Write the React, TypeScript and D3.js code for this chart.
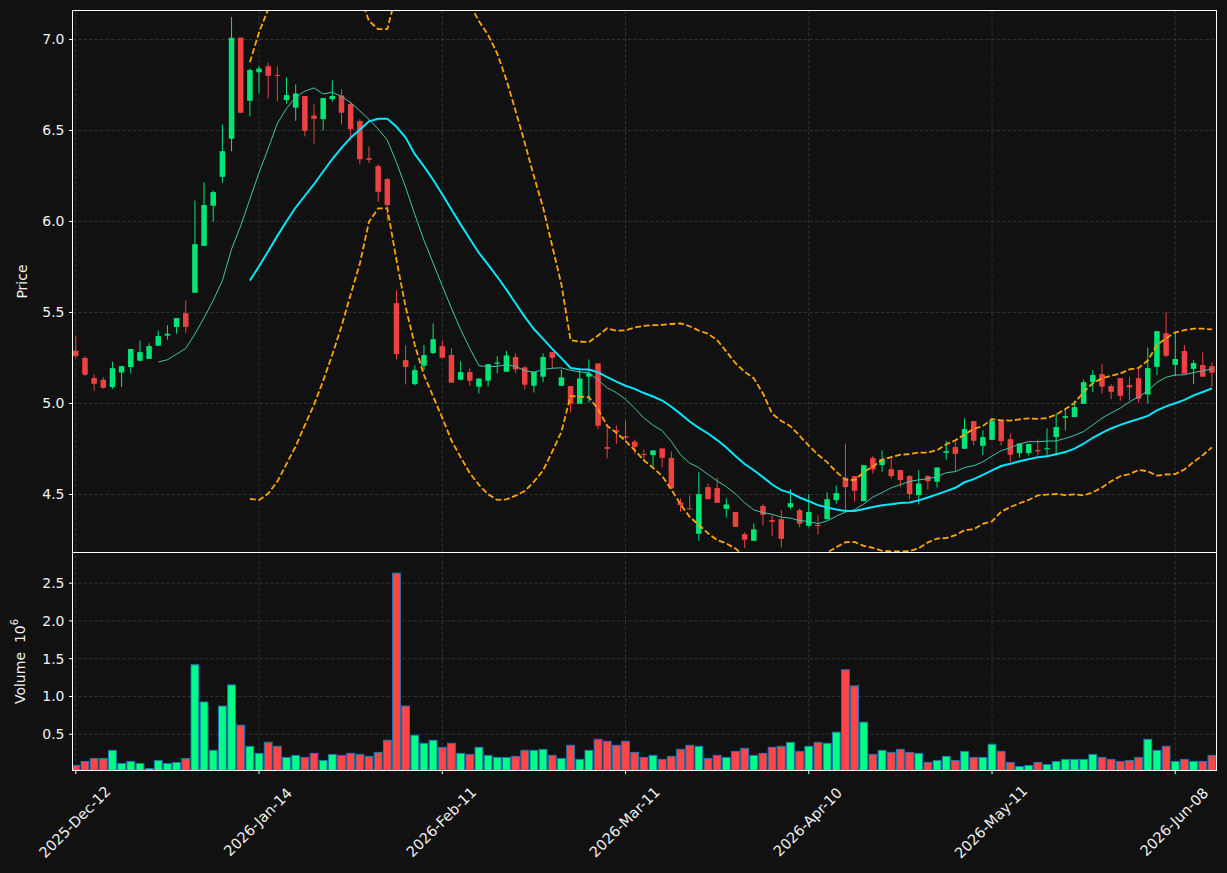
import React, { useEffect, useRef } from 'react';
import * as d3 from 'd3';

// OHLC, one value per trading day (125 bars)
const opens = [
  5.29, 5.25, 5.14, 5.13, 5.09, 5.17, 5.2, 5.235, 5.245, 5.317,
  5.373, 5.42, 5.496, 5.608, 5.866, 6.086, 6.245, 6.454, 7.01, 6.663,
  6.82, 6.853, 6.806, 6.667, 6.625, 6.689, 6.582, 6.562, 6.672, 6.692,
  6.645, 6.551, 6.348, 6.304, 6.233, 5.551, 5.238, 5.106, 5.207, 5.277,
  5.315, 5.266, 5.13, 5.172, 5.092, 5.125, 5.218, 5.174, 5.255, 5.198,
  5.097, 5.147, 5.282, 5.097, 5.095, 4.998, 5.147, 5.22, 4.76, 4.853,
  4.82, 4.79, 4.722, 4.716, 4.753, 4.7, 4.456, 4.423, 4.284, 4.54,
  4.535, 4.421, 4.403, 4.282, 4.245, 4.436, 4.359, 4.364, 4.43, 4.414,
  4.328, 4.333, 4.364, 4.469, 4.592, 4.601, 4.463, 4.7, 4.661, 4.639,
  4.634, 4.601, 4.496, 4.601, 4.57, 4.729, 4.76, 4.751, 4.903, 4.767,
  4.8, 4.903, 4.804, 4.727, 4.727, 4.744, 4.749, 4.815, 4.921, 4.925,
  4.998, 5.117, 5.161, 5.095, 5.139, 5.101, 5.139, 5.049, 5.201, 5.386,
  5.212, 5.288, 5.19, 5.211, 5.205,
];
const highs = [
  5.37, 5.26, 5.16, 5.145, 5.23, 5.205, 5.3, 5.345, 5.33, 5.4,
  5.43, 5.47, 5.566, 6.115, 6.214, 6.17, 6.533, 7.123, 7.01, 6.841,
  6.855, 6.872, 6.853, 6.791, 6.753, 6.689, 6.643, 6.678, 6.775, 6.725,
  6.658, 6.562, 6.412, 6.313, 6.238, 5.621, 5.319, 5.209, 5.32, 5.44,
  5.344, 5.302, 5.231, 5.192, 5.137, 5.216, 5.26, 5.288, 5.275, 5.205,
  5.174, 5.275, 5.282, 5.187, 5.095, 5.183, 5.242, 5.22, 4.872, 4.879,
  4.907, 4.802, 4.747, 4.742, 4.753, 4.736, 4.478, 4.495, 4.621, 4.56,
  4.593, 4.478, 4.403, 4.293, 4.341, 4.447, 4.386, 4.414, 4.527, 4.423,
  4.502, 4.385, 4.511, 4.548, 4.78, 4.601, 4.661, 4.711, 4.742, 4.698,
  4.634, 4.606, 4.634, 4.606, 4.648, 4.795, 4.789, 4.918, 4.903, 4.852,
  4.921, 4.903, 4.835, 4.78, 4.777, 4.802, 4.863, 4.943, 4.969, 5.015,
  5.132, 5.183, 5.216, 5.106, 5.139, 5.147, 5.19, 5.308, 5.397, 5.5,
  5.388, 5.321, 5.238, 5.28, 5.225,
];
const lows = [
  5.25, 5.15, 5.07, 5.08, 5.08, 5.09, 5.165, 5.23, 5.245, 5.317,
  5.35, 5.383, 5.388, 5.608, 5.866, 5.998, 6.212, 6.385, 6.597, 6.577,
  6.705, 6.676, 6.661, 6.648, 6.553, 6.467, 6.427, 6.5, 6.658, 6.533,
  6.443, 6.313, 6.322, 6.108, 6.007, 5.242, 5.104, 5.099, 5.183, 5.271,
  5.251, 5.114, 5.13, 5.097, 5.055, 5.093, 5.165, 5.174, 5.168, 5.077,
  5.06, 5.117, 5.189, 5.097, 4.951, 4.998, 5.005, 4.859, 4.698, 4.777,
  4.789, 4.722, 4.689, 4.652, 4.648, 4.533, 4.405, 4.418, 4.245, 4.474,
  4.454, 4.374, 4.322, 4.207, 4.245, 4.33, 4.271, 4.209, 4.419, 4.319,
  4.319, 4.28, 4.364, 4.449, 4.414, 4.46, 4.463, 4.615, 4.625, 4.588,
  4.542, 4.473, 4.445, 4.527, 4.538, 4.69, 4.625, 4.751, 4.769, 4.716,
  4.8, 4.769, 4.679, 4.703, 4.714, 4.714, 4.716, 4.716, 4.852, 4.925,
  4.998, 5.062, 5.055, 5.024, 5.015, 5.018, 5.004, 5.0, 5.156, 5.253,
  5.15, 5.163, 5.106, 5.147, 5.092,
];
const closes = [
  5.26, 5.158, 5.108, 5.086, 5.194, 5.205, 5.299, 5.282, 5.315, 5.37,
  5.383, 5.469, 5.421, 5.875, 6.09, 6.161, 6.386, 7.009, 6.597, 6.832,
  6.84, 6.8, 6.8, 6.694, 6.703, 6.498, 6.564, 6.678, 6.689, 6.597,
  6.507, 6.342, 6.339, 6.163, 6.09, 5.271, 5.201, 5.183, 5.266, 5.353,
  5.251, 5.114, 5.172, 5.125, 5.137, 5.216, 5.225, 5.264, 5.187, 5.103,
  5.174, 5.255, 5.251, 5.143, 4.998, 5.137, 5.165, 4.877, 4.751, 4.844,
  4.811, 4.762, 4.716, 4.742, 4.701, 4.533, 4.441, 4.418, 4.502, 4.474,
  4.454, 4.445, 4.322, 4.251, 4.308, 4.388, 4.35, 4.256, 4.452, 4.339,
  4.403, 4.326, 4.474, 4.507, 4.54, 4.52, 4.661, 4.637, 4.694, 4.601,
  4.579, 4.502, 4.56, 4.573, 4.648, 4.738, 4.723, 4.859, 4.795, 4.815,
  4.903, 4.793, 4.718, 4.78, 4.777, 4.737, 4.754, 4.87, 4.93, 4.98,
  5.117, 5.156, 5.092, 5.064, 5.042, 5.088, 5.026, 5.194, 5.397, 5.262,
  5.244, 5.163, 5.222, 5.147, 5.169,
];
// volume in millions
const volumes = [
  0.087, 0.14, 0.18, 0.18, 0.287, 0.113, 0.14, 0.113, 0.047, 0.153,
  0.113, 0.127, 0.18, 1.42, 0.927, 0.287, 0.873, 1.153, 0.62, 0.34,
  0.247, 0.393, 0.34, 0.193, 0.22, 0.193, 0.247, 0.153, 0.233, 0.22,
  0.247, 0.233, 0.207, 0.26, 0.42, 2.633, 0.873, 0.487, 0.38, 0.42,
  0.327, 0.38, 0.247, 0.233, 0.327, 0.22, 0.193, 0.193, 0.207, 0.287,
  0.287, 0.3, 0.22, 0.18, 0.353, 0.167, 0.287, 0.433, 0.407, 0.353,
  0.407, 0.26, 0.193, 0.22, 0.167, 0.207, 0.3, 0.353, 0.34, 0.18,
  0.22, 0.193, 0.273, 0.313, 0.22, 0.247, 0.327, 0.34, 0.393, 0.273,
  0.34, 0.393, 0.38, 0.527, 1.353, 1.14, 0.66, 0.233, 0.287, 0.26,
  0.3, 0.26, 0.247, 0.127, 0.153, 0.207, 0.153, 0.273, 0.193, 0.193,
  0.367, 0.273, 0.127, 0.073, 0.087, 0.127, 0.1, 0.14, 0.167, 0.167,
  0.167, 0.233, 0.193, 0.167, 0.14, 0.153, 0.193, 0.433, 0.287, 0.34,
  0.14, 0.167, 0.14, 0.14, 0.22,
];

const tickIdx = [0, 20, 40, 60, 80, 100, 120];
const tickLabels = ['2025-Dec-12', '2026-Jan-14', '2026-Feb-11', '2026-Mar-11', '2026-Apr-10', '2026-May-11', '2026-Jun-08'];
const priceTicks = [4.5, 5.0, 5.5, 6.0, 6.5, 7.0];
const volTicks = [0.5, 1.0, 1.5, 2.0, 2.5];

const W = 1227, H = 873;
const L = 72.5, R = 1216.5, PT = 10.5, PB = 552.5, VB = 770.5;
const UP = '#00e676', DOWN = '#ec4242';
const VUP = '#00ff84', VDOWN = '#ff4545';
const FONT = 'DejaVu Sans, sans-serif';

// rolling mean / population std over closes
function rolling(vals: number[], n: number) {
  const out: { i: number; m: number; s: number }[] = [];
  for (let i = n - 1; i < vals.length; i++) {
    const w = vals.slice(i - n + 1, i + 1);
    const m = d3.mean(w) as number;
    const s = Math.sqrt(d3.mean(w, (v) => (v - m) * (v - m)) as number);
    out.push({ i, m, s });
  }
  return out;
}

export default function App() {
  const ref = useRef<SVGSVGElement>(null);

  useEffect(() => {
    const svg = d3.select(ref.current);
    svg.selectAll('*').remove();

    const x = d3.scaleLinear().domain([-0.36, 124.5]).range([L, R]);
    const yP = d3.scaleLinear().domain([4.181, 7.159]).range([PB, PT]);
    const yV = d3.scaleLinear().domain([0.02, 2.906]).range([VB, PB]);
    const n = closes.length;
    const idx = d3.range(n);

    svg.append('rect').attr('width', W).attr('height', H).attr('fill', '#111111');

    const defs = svg.append('defs');
    defs.append('clipPath').attr('id', 'clipP')
      .append('rect').attr('x', L).attr('y', PT).attr('width', R - L).attr('height', PB - PT);
    defs.append('clipPath').attr('id', 'clipV')
      .append('rect').attr('x', L).attr('y', PB).attr('width', R - L).attr('height', VB - PB);

    // grid
    const grid = svg.append('g').attr('stroke', '#3a3a3a').attr('stroke-width', 0.8).attr('stroke-dasharray', '3.5,2');
    tickIdx.forEach((t) => {
      grid.append('line').attr('x1', x(t)).attr('x2', x(t)).attr('y1', PT).attr('y2', VB);
    });
    priceTicks.forEach((p) => {
      grid.append('line').attr('x1', L).attr('x2', R).attr('y1', yP(p)).attr('y2', yP(p));
    });
    volTicks.forEach((v) => {
      grid.append('line').attr('x1', L).attr('x2', R).attr('y1', yV(v)).attr('y2', yV(v));
    });

    // volume bars
    const vg = svg.append('g').attr('clip-path', 'url(#clipV)');
    vg.selectAll('rect').data(idx).enter().append('rect')
      .attr('x', (i) => x(i) - 3.9)
      .attr('width', 7.8)
      .attr('y', (i) => yV(volumes[i]))
      .attr('height', (i) => VB + 2 - yV(volumes[i]))
      .attr('fill', (i) => (closes[i] >= opens[i] ? VUP : VDOWN))
      .attr('stroke', '#1f77b4')
      .attr('stroke-width', 1);

    // candles
    const cg = svg.append('g').attr('clip-path', 'url(#clipP)');
    cg.selectAll('line.wick').data(idx).enter().append('line')
      .attr('class', 'wick')
      .attr('x1', (i) => x(i)).attr('x2', (i) => x(i))
      .attr('y1', (i) => yP(highs[i])).attr('y2', (i) => yP(lows[i]))
      .attr('stroke', (i) => (closes[i] >= opens[i] ? UP : DOWN))
      .attr('stroke-width', 1);
    cg.selectAll('rect.body').data(idx).enter().append('rect')
      .attr('class', 'body')
      .attr('x', (i) => x(i) - 2.75)
      .attr('width', 5.5)
      .attr('y', (i) => yP(Math.max(opens[i], closes[i])))
      .attr('height', (i) => Math.max(1, Math.abs(yP(opens[i]) - yP(closes[i]))))
      .attr('fill', (i) => (closes[i] >= opens[i] ? UP : DOWN));

    // moving averages and bands
    const ma10 = rolling(closes, 10);
    const ma20 = rolling(closes, 20);
    const lg = svg.append('g').attr('clip-path', 'url(#clipP)').attr('fill', 'none');
    const line = (acc: (d: { i: number; m: number; s: number }) => number) =>
      d3.line<{ i: number; m: number; s: number }>().x((d) => x(d.i)).y((d) => yP(acc(d)));
    lg.append('path').attr('d', line((d) => d.m)(ma10)).attr('stroke', '#3fc4b0').attr('stroke-width', 1);
    lg.append('path').attr('d', line((d) => d.m)(ma20)).attr('stroke', '#00e8ff').attr('stroke-width', 2);
    lg.append('path').attr('d', line((d) => d.m + 2 * d.s)(ma20))
      .attr('stroke', '#ffa500').attr('stroke-width', 1.8).attr('stroke-dasharray', '6,2.6');
    lg.append('path').attr('d', line((d) => d.m - 2 * d.s)(ma20))
      .attr('stroke', '#ffa500').attr('stroke-width', 1.8).attr('stroke-dasharray', '6,2.6');

    // frames
    const fr = svg.append('g').attr('fill', 'none').attr('stroke', '#ffffff').attr('stroke-width', 1);
    fr.append('rect').attr('x', L).attr('y', PT).attr('width', R - L).attr('height', VB - PT);
    fr.append('line').attr('x1', L).attr('x2', R).attr('y1', PB).attr('y2', PB);

    // ticks and labels
    const tk = svg.append('g').attr('font-family', FONT).attr('font-size', 14).attr('fill', '#f2f2f2');
    priceTicks.forEach((p) => {
      tk.append('line').attr('x1', L - 3.5).attr('x2', L).attr('y1', yP(p)).attr('y2', yP(p)).attr('stroke', '#fff');
      tk.append('text').attr('x', L - 8).attr('y', yP(p)).attr('text-anchor', 'end')
        .attr('dominant-baseline', 'central').text(p.toFixed(1));
    });
    volTicks.forEach((v) => {
      tk.append('line').attr('x1', L - 3.5).attr('x2', L).attr('y1', yV(v)).attr('y2', yV(v)).attr('stroke', '#fff');
      tk.append('text').attr('x', L - 8).attr('y', yV(v)).attr('text-anchor', 'end')
        .attr('dominant-baseline', 'central').text(v.toFixed(1));
    });
    tickIdx.forEach((t, k) => {
      tk.append('line').attr('x1', x(t)).attr('x2', x(t)).attr('y1', VB).attr('y2', VB + 3.5).attr('stroke', '#fff');
      tk.append('text')
        .attr('transform', `translate(${x(t) - 1},${822}) rotate(-45)`)
        .attr('text-anchor', 'middle').attr('dominant-baseline', 'central')
        .attr('font-size', 14.5)
        .text(tickLabels[k]);
    });

    tk.append('text').attr('transform', `translate(22,${(PT + PB) / 2}) rotate(-90)`)
      .attr('text-anchor', 'middle').attr('dominant-baseline', 'central').text('Price');
    const vl = tk.append('text').attr('transform', `translate(20,${(PB + VB) / 2}) rotate(-90)`)
      .attr('text-anchor', 'middle').attr('dominant-baseline', 'central');
    vl.append('tspan').text('Volume\u00a0\u00a010');
    vl.append('tspan').attr('dy', -6).attr('font-size', 10).text('6');
  }, []);

  return (
    <svg ref={ref} width={W} height={H} style={{ position: 'absolute', left: 0, top: 0, display: 'block' }} />
  );
}
